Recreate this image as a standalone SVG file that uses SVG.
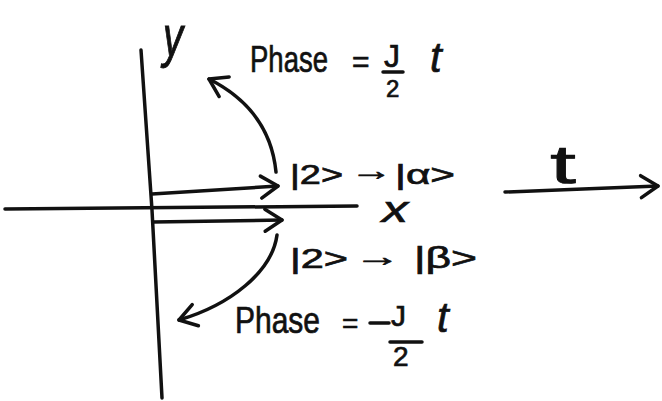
<svg xmlns="http://www.w3.org/2000/svg" width="662" height="401" viewBox="0 0 662 401">
<style>
.ln{fill:none;stroke:#111;stroke-width:3.5;stroke-linecap:round;stroke-linejoin:round}
.tx{font-family:"Liberation Sans","DejaVu Sans",sans-serif;fill:#111;stroke:#111;stroke-width:0.7}
</style>
<defs>
<marker id="ah" markerUnits="userSpaceOnUse" markerWidth="26" markerHeight="26" refX="20" refY="12" orient="auto" overflow="visible">
<path d="M3,1 L20,12 L3,23" fill="none" stroke="#111" stroke-width="3.5" stroke-linecap="round" stroke-linejoin="round"/>
</marker>
</defs>
<rect width="662" height="401" fill="#fff"/>
<g id="axes">
<path class="ln" d="M141,50 L152,210 L162,398"/>
<path class="ln" d="M5,209 L357,206"/>
<text class="tx" transform="translate(163,56) scale(1,1.45)" font-size="40" font-style="italic">y</text>
<text class="tx" x="382" y="222" font-size="36" font-style="italic" textLength="26" lengthAdjust="spacingAndGlyphs">x</text>
</g>
<g id="connectors">
<path class="ln" d="M152,194 L278,186" marker-end="url(#ah)"/>
<path class="ln" d="M153,222 L282,220" marker-end="url(#ah)"/>
<path class="ln" d="M276,172 Q270,110 209,79" marker-end="url(#ah)"/>
<path class="ln" d="M277,235 C272,272 230,305 179,320" marker-end="url(#ah)"/>
<path class="ln" d="M505,192 L658,186" marker-end="url(#ah)"/>
</g>
<g id="label-alpha">
<text class="tx" x="290" y="184" font-size="28" textLength="53" lengthAdjust="spacingAndGlyphs">|2&gt;</text>
<text class="tx" x="350" y="180" font-size="28" textLength="42" lengthAdjust="spacingAndGlyphs">→</text>
<text class="tx" x="395" y="184" font-size="28" textLength="60" lengthAdjust="spacingAndGlyphs">|α&gt;</text>
</g>
<g id="label-beta">
<text class="tx" x="290" y="268" font-size="28" textLength="58" lengthAdjust="spacingAndGlyphs">|2&gt;</text>
<text class="tx" x="354" y="266" font-size="28" textLength="46" lengthAdjust="spacingAndGlyphs">→</text>
<text class="tx" x="414" y="268" font-size="30" textLength="63" lengthAdjust="spacingAndGlyphs">|β&gt;</text>
</g>
<g id="phase-top">
<text class="tx" x="250" y="72" font-size="36" textLength="78" lengthAdjust="spacingAndGlyphs">Phase</text>
<text class="tx" x="352" y="72" font-size="30">=</text>
<text class="tx" x="384" y="67" font-size="32">J</text>
<path class="ln" d="M383,72 L403,72"/>
<text class="tx" x="386" y="97" font-size="24">2</text>
<text class="tx" x="430" y="72" font-size="42" font-style="italic">t</text>
</g>
<g id="phase-bottom">
<text class="tx" x="235" y="333" font-size="36" textLength="85" lengthAdjust="spacingAndGlyphs">Phase</text>
<text class="tx" x="342" y="333" font-size="28">=</text>
<path class="ln" d="M370,323 L389,323"/>
<text class="tx" x="391" y="326" font-size="30">J</text>
<path class="ln" d="M390,342 L422,342"/>
<text class="tx" x="393" y="366" font-size="28">2</text>
<text class="tx" x="437" y="332" font-size="42" font-style="italic">t</text>
</g>
<g id="time">
<text class="tx" x="550" y="183" font-size="54" textLength="26" lengthAdjust="spacingAndGlyphs">t</text>
</g>
</svg>
